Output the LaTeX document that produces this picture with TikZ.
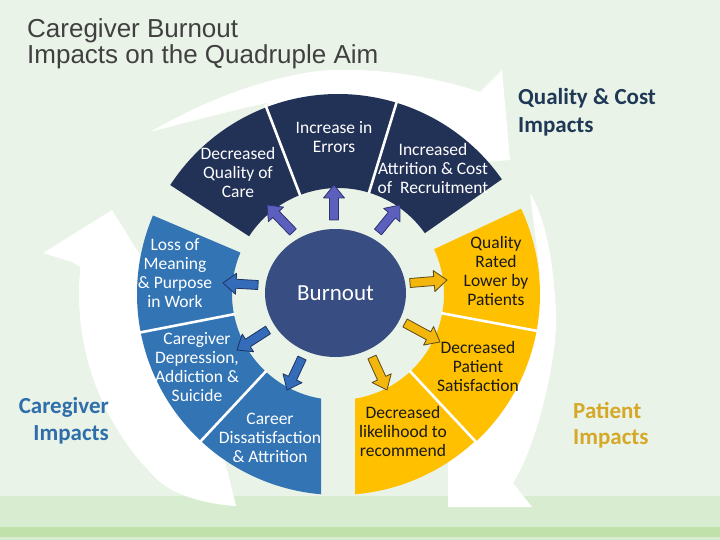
\documentclass[tikz,border=0pt]{standalone}
\usepackage{fontspec}
\setmainfont{Carlito}
\newfontfamily\titlefont{Liberation Sans}
\usetikzlibrary{calc,shapes.geometric}
\definecolor{bgpale}{RGB}{234,243,232}
\definecolor{bandgreen}{RGB}{216,236,208}
\definecolor{stripegreen}{RGB}{192,225,170}
\definecolor{navyseg}{RGB}{34,49,86}
\definecolor{burnblue}{RGB}{56,77,130}
\definecolor{careblue}{RGB}{50,116,180}
\definecolor{patgold}{RGB}{255,192,0}
\definecolor{arrviolet}{RGB}{92,96,188}
\definecolor{violetdark}{RGB}{44,52,112}
\definecolor{arrblue}{RGB}{52,108,186}
\definecolor{arrbluedark}{RGB}{28,52,100}
\definecolor{arrgold}{RGB}{242,182,12}
\definecolor{arrgolddark}{RGB}{92,74,24}
\definecolor{headnavy}{RGB}{31,56,86}
\definecolor{headblue}{RGB}{46,110,170}
\definecolor{headgold}{RGB}{214,168,40}
\definecolor{titlegray}{RGB}{64,64,64}
\newcommand{\blockarrow}[3]{%
  \coordinate (hb) at ($(#3)!13pt!(#2)$);
  \draw[#1] ($(#2)!4.5pt!90:(#3)$) -- ($(hb)!4.5pt!-90:(#2)$) -- ($(hb)!10.5pt!-90:(#2)$) -- (#3)
    -- ($(hb)!10.5pt!90:(#2)$) -- ($(hb)!4.5pt!90:(#2)$) -- ($(#2)!4.5pt!-90:(#3)$) -- cycle;}
\begin{document}
\begin{tikzpicture}[x=1pt,y=-1pt,line join=round,
  segtext/.style={align=center,inner sep=0pt,font=\fontsize{17.5}{19}\selectfont},
  sepline/.style={white,line width=2.6pt},
  topblock/.style={fill=arrviolet,draw=violetdark,line width=0.8pt},
  leftblock/.style={fill=arrblue,draw=arrbluedark,line width=0.8pt},
  rightblock/.style={fill=arrgold,draw=arrgolddark,line width=0.8pt}]
  \useasboundingbox (0,0) rectangle (720,540);
  \fill[bgpale] (0,0) rectangle (720,540);
  \fill[bandgreen] (0,496) rectangle (720,540);
  \fill[stripegreen] (0,527) rectangle (720,537);
  \node[anchor=north west,align=left,inner sep=0pt,text=titlegray,font=\titlefont\fontsize{26}{26}\selectfont] (title) at (27,18) {Caregiver Burnout\\Impacts on the Quadruple Aim};
  \begin{scope}[shift={(338,294)},y=1pt]
    \fill[white] (-226,84) -- (-295,41) -- (-266,32) -- (174:259) arc[start angle=174,end angle=226,radius=259]
      .. controls (-162,-203) and (-125,-211) .. (-102,-212) -- (234:196) arc[start angle=234,end angle=172,radius=196] -- (-183,15) -- cycle;
    \fill[white] (-188,162) .. controls (-140,190) and (-80,215) .. (-20,223) .. controls (40,228) and (100,216) .. (142,202)
      -- (164,224) -- (172,134) -- (82,126) -- (60:192) arc[start angle=60,end angle=109,radius=192]
      -- (-71,191) .. controls (-100,185) and (-150,172) .. (-188,162) -- cycle;
    \fill[white] (192,101) .. controls (208,75) and (216,30) .. (218,-20) .. controls (220,-60) and (200,-150) .. (175,-189)
      -- (194,-213) -- (110,-213) -- (110,-128) -- (-45:190) arc[start angle=-45,end angle=5,radius=190]
      -- (6:203) .. controls (15:205) and (22:210) .. (192,101) -- cycle;
    \fill[navyseg] (111:106) -- (111:200) arc[start angle=111,end angle=147,radius=200] -- (147:106) arc[start angle=147,end angle=111,radius=106] -- cycle;
    \fill[navyseg] (73:106) -- (73:200) arc[start angle=73,end angle=111,radius=200] -- (111:106) arc[start angle=111,end angle=73,radius=106] -- cycle;
    \fill[navyseg] (35:106) -- (35:200) arc[start angle=35,end angle=73,radius=200] -- (73:106) arc[start angle=73,end angle=35,radius=106] -- cycle;
    \fill[careblue] (157:106) -- (157:201) arc[start angle=157,end angle=191,radius=201] -- (191:106) arc[start angle=191,end angle=157,radius=106] -- cycle;
    \fill[careblue] (191:106) -- (191:201) arc[start angle=191,end angle=227,radius=201] -- (227:106) arc[start angle=227,end angle=191,radius=106] -- cycle;
    \fill[careblue] (227:106) -- (227:201) arc[start angle=227,end angle=265.15,radius=201] -- (-17,-104.6) arc[start angle=260.77,end angle=227,radius=106] -- cycle;
    \fill[patgold] (-10.5:106) -- (-10.5:202) arc[start angle=-10.5,end angle=25,radius=202] -- (25:106) arc[start angle=25,end angle=-10.5,radius=106] -- cycle;
    \fill[patgold] (-47:106) -- (-47:202) arc[start angle=-47,end angle=-10.5,radius=202] -- (-10.5:106) arc[start angle=-10.5,end angle=-47,radius=106] -- cycle;
    \fill[patgold] (17,-104.6) -- (17,-200.3) arc[start angle=-85.15,end angle=-47,radius=201] -- (-47:106) arc[start angle=-47,end angle=-80.77,radius=106] -- cycle;
    \foreach \a in {111,73,191,227,-10.5,-47}
      \draw[sepline] (\a:105) -- (\a:203);
  \end{scope}
  \node[ellipse,fill=burnblue,minimum width=141pt,minimum height=128pt,inner sep=0pt,text=white,font=\fontsize{23}{23}\selectfont] (burnout) at (335.5,293) {Burnout};
  \coordinate (t-dq) at (293,232);  \coordinate (h-dq) at (267,205);
  \coordinate (t-er) at (334,220);  \coordinate (h-er) at (334,185);
  \coordinate (t-at) at (378,232);  \coordinate (h-at) at (400,205);
  \coordinate (t-lm) at (258,285);  \coordinate (h-lm) at (223,283);
  \coordinate (t-dp) at (268,330);  \coordinate (h-dp) at (237,350);
  \coordinate (t-cd) at (302,358);  \coordinate (h-cd) at (287,390);
  \coordinate (t-qr) at (410,283);  \coordinate (h-qr) at (447,280);
  \coordinate (t-ps) at (405,323);  \coordinate (h-ps) at (440,342);
  \coordinate (t-lr) at (372,357);  \coordinate (h-lr) at (387,390);
  \blockarrow{topblock}{t-dq}{h-dq}
  \blockarrow{topblock}{t-er}{h-er}
  \blockarrow{topblock}{t-at}{h-at}
  \blockarrow{leftblock}{t-lm}{h-lm}
  \blockarrow{leftblock}{t-dp}{h-dp}
  \blockarrow{leftblock}{t-cd}{h-cd}
  \blockarrow{rightblock}{t-qr}{h-qr}
  \blockarrow{rightblock}{t-ps}{h-ps}
  \blockarrow{rightblock}{t-lr}{h-lr}
  \node[segtext,text=white] (dq) at (238,172) {Decreased\\Quality of\\Care};
  \node[segtext,text=white] (errors) at (334,137.5) {Increase in\\Errors};
  \node[segtext,text=white] (attrition) at (433,168) {Increased\\Attrition \& Cost\\of\ \ Recruitment};
  \node[segtext,text=white] (loss) at (175,273.5) {Loss of\\Meaning\\\& Purpose\\in Work};
  \node[segtext,text=white] (depression) at (197,367.5) {Caregiver\\Depression,\\Addiction \&\\Suicide};
  \node[segtext,text=white] (career) at (270,437.5) {Career\\Dissatisfaction\\\& Attrition};
  \node[segtext,text=black!90] (quality) at (496,270.5) {Quality\\Rated\\Lower by\\Patients};
  \node[segtext,text=black!90] (satisfaction) at (478,366.5) {Decreased\\Patient\\Satisfaction};
  \node[segtext,text=black!90] (likelihood) at (403,431.5) {Decreased\\likelihood to\\recommend};
  \node[anchor=north west,align=left,inner sep=0pt,text=headnavy,font=\bfseries\fontsize{23}{28}\selectfont] (qchead) at (518,88) {Quality \& Cost\\Impacts};
  \node[anchor=north east,align=right,inner sep=0pt,text=headblue,font=\bfseries\fontsize{23}{27}\selectfont] (cghead) at (109,397) {Caregiver\\Impacts};
  \node[anchor=north west,align=left,inner sep=0pt,text=headgold,font=\bfseries\fontsize{23}{26}\selectfont] (pthead) at (573,402) {Patient\\Impacts};
\end{tikzpicture}
\end{document}
